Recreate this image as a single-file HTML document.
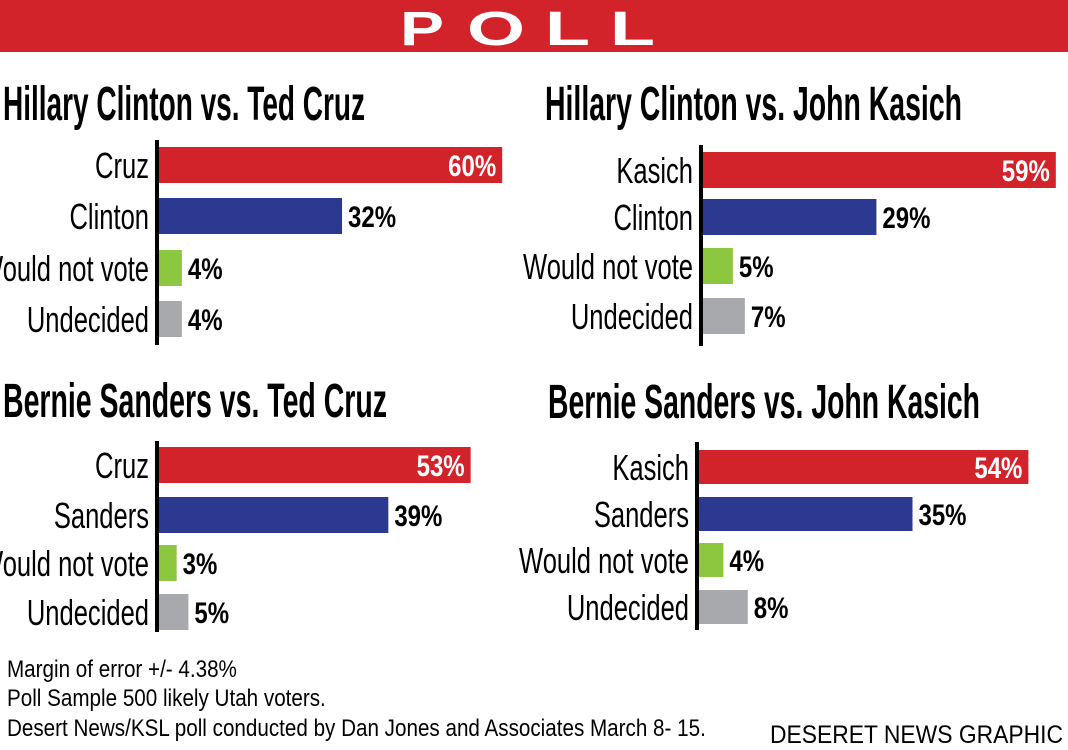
<!DOCTYPE html>
<html><head><meta charset="utf-8"><style>
html,body{margin:0;padding:0;background:#fff;}
svg{display:block;}
text{font-family:"Liberation Sans Narrow","Liberation Sans",sans-serif;}
</style></head><body>
<svg id="chart" width="1068" height="750" viewBox="0 0 1068 750" xmlns="http://www.w3.org/2000/svg">
<rect x="0" y="0" width="1068" height="52" fill="#d2232a"/>
<g fill="#fff" font-family="Liberation Sans" font-weight="bold" font-size="48">
<text x="400" y="45" textLength="44" lengthAdjust="spacingAndGlyphs" style="font-family:'Liberation Sans',sans-serif">P</text>
<text x="467" y="45" textLength="58" lengthAdjust="spacingAndGlyphs" style="font-family:'Liberation Sans',sans-serif">O</text>
<text x="545" y="45" textLength="45" lengthAdjust="spacingAndGlyphs" style="font-family:'Liberation Sans',sans-serif">L</text>
<text x="610" y="45" textLength="45" lengthAdjust="spacingAndGlyphs" style="font-family:'Liberation Sans',sans-serif">L</text>
</g>
<g id="panels"></g>
<g font-size="24" fill="#000">
<text x="7" y="677" transform="translate(7,0) scale(0.86,1) translate(-7,0)">Margin of error +/- 4.38%</text>
<text x="7" y="706" transform="translate(7,0) scale(0.86,1) translate(-7,0)">Poll Sample 500 likely Utah voters.</text>
<text x="7" y="736" transform="translate(7,0) scale(0.86,1) translate(-7,0)">Desert News/KSL poll conducted by Dan Jones and Associates March 8- 15.</text>
</g>
<text x="770" y="743" font-size="25" textLength="293" lengthAdjust="spacingAndGlyphs" style="font-family:'Liberation Sans',sans-serif">DESERET NEWS GRAPHIC</text>
</svg>
<script>
const categories = ["Would not vote","Undecided"];
const titles = ["Hillary Clinton vs. Ted Cruz","Hillary Clinton vs. John Kasich","Bernie Sanders vs. Ted Cruz","Bernie Sanders vs. John Kasich"];
const candA = ["Cruz","Kasich","Cruz","Kasich"];
const candB = ["Clinton","Clinton","Sanders","Sanders"];
const republicanValues = [60,59,53,54];
const democratValues = [32,29,39,35];
const wouldNotVoteValues = [4,5,3,4];
const undecidedValues = [4,7,5,8];

const layout = [
  {tx:3, tw:362, ty:120, ax:157, ay0:140, ay1:345, bars:[147,198,250,301], bh:36, scale:5.72},
  {tx:545, tw:417, ty:120, ax:701, ay0:145, ay1:346, bars:[152,199,248,298], bh:36, scale:5.98},
  {tx:3, tw:384, ty:417, ax:157, ay0:441, ay1:632, bars:[447,497,545,594], bh:36, scale:5.88},
  {tx:548, tw:432, ty:418, ax:697, ay0:442, ay1:630, bars:[450,497,543,590], bh:34, scale:6.1}
];
const colors = ["#d2232a","#2b3990","#8dc63f","#a7a9ac"];
const NS = "http://www.w3.org/2000/svg";
const root = document.getElementById('panels');
function mk(tag, attrs, parent){
  const e = document.createElementNS(NS, tag);
  for (const k in attrs) e.setAttribute(k, attrs[k]);
  parent.appendChild(e);
  return e;
}
for (let p = 0; p < 4; p++) {
  const L = layout[p];
  const g = mk('g', {}, root);
  
  
  const t = mk('text', {x:L.tx, y:L.ty, 'font-size':48, 'font-weight':'bold', textLength:L.tw, lengthAdjust:'spacingAndGlyphs'}, g);
  t.textContent = titles[p];
  
  
  const labels = [candA[p], candB[p], categories[0], categories[1]];
  const vals = [republicanValues[p], democratValues[p], wouldNotVoteValues[p], undecidedValues[p]];
  const x0 = L.ax + 2;
  for (let i = 0; i < 4; i++) {
    const y = L.bars[i], w = vals[i] * L.scale, cy = y + L.bh/2;
    const r = mk('rect', {x:x0, y:y, width:w, height:L.bh, fill:colors[i]}, g);
    
    
    const lab = mk('text', {x:0, y:0, 'font-size':36, 'text-anchor':'end', transform:`translate(${L.ax-8},${cy+13}) scale(0.71,1)`}, g);
    lab.textContent = labels[i];
    
    
    const inside = i === 0;
    const vx = inside ? x0 + w - 6 : x0 + w + 6;
    const v = mk('text', {x:0, y:0, 'font-size':30, 'font-weight':'bold', 'text-anchor': inside ? 'end' : 'start', fill: inside ? '#fff' : '#000', transform:`translate(${vx},${cy+11}) scale(0.8,1)`}, g);
    v.textContent = vals[i] + '%';
    
    
  }
  const ax = mk('line', {x1:L.ax, x2:L.ax, y1:L.ay0, y2:L.ay1, stroke:'#000', 'stroke-width':4}, g);
  
  
}
</script>
</body></html>
